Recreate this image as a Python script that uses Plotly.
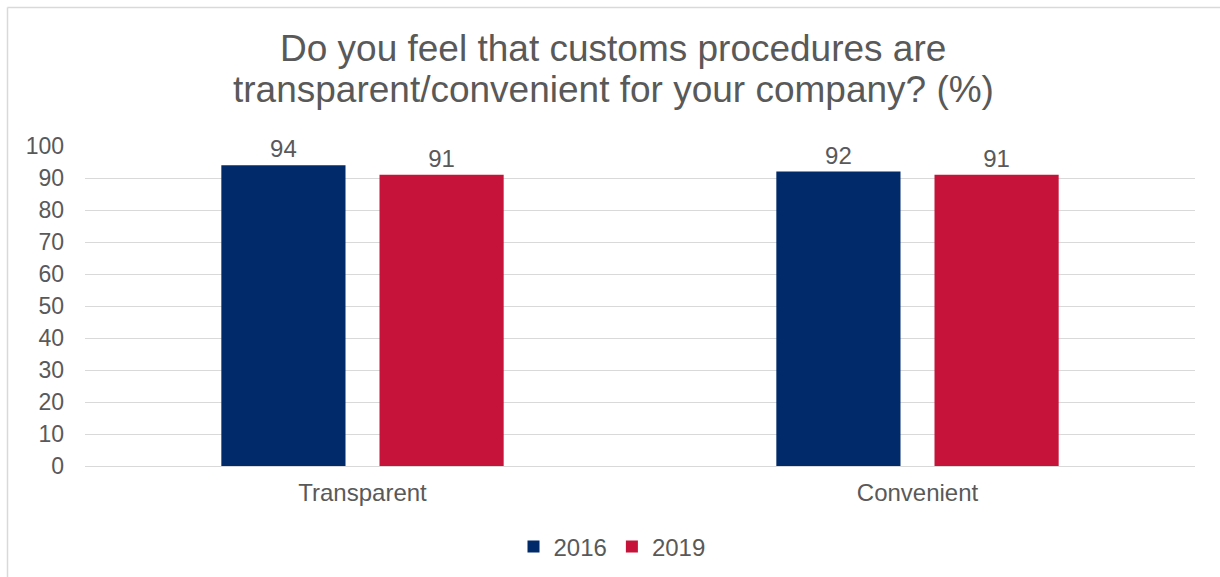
import plotly.graph_objects as go

categories = ["Transparent", "Convenient"]
values_2016 = [94, 92]
values_2019 = [91, 91]
series_names = ["2016", "2019"]
colors = ["#002A6A", "#C61339"]
y_ticks = [0, 10, 20, 30, 40, 50, 60, 70, 80, 90, 100]
title_lines = [
    "Do you feel that customs procedures are",
    "transparent/convenient for your company? (%)",
]

W, H = 1220, 577
L, R, T, B = 85, 25, 146, 111
plot_w = W - L - R
plot_h = H - T - B

text_color = "#595959"
font_family = "Liberation Sans, Arial, sans-serif"

fig = go.Figure()
for name, vals, col in zip(series_names, [values_2016, values_2019], colors):
    fig.add_trace(go.Bar(
        x=categories, y=vals, name=name,
        marker=dict(color=col, line=dict(width=0)),
        text=[str(v) for v in vals], textposition="outside",
        textfont=dict(size=24, color=text_color, family=font_family),
        cliponaxis=False,
    ))


def px_x(px):
    return (px - L) / plot_w


def px_y(py):
    return (H - B - py) / plot_h


# chart title, one annotation per line for tight line spacing
title_centers = [48, 90]
annotations = [
    dict(text=line, xref="paper", yref="paper",
         x=px_x(W / 2 + 3), y=px_y(cy), xanchor="center", yanchor="middle",
         showarrow=False, font=dict(size=37, color=text_color, family=font_family))
    for line, cy in zip(title_lines, title_centers)
]

fig.update_layout(
    width=W, height=H,
    margin=dict(l=L, r=R, t=T, b=B, autoexpand=False),
    paper_bgcolor="white", plot_bgcolor="white",
    font=dict(family=font_family, color=text_color, size=24),
    barmode="group", bargap=0.43, bargroupgap=0.215,
    annotations=annotations,
    xaxis=dict(
        showgrid=False, showline=False, ticks="",
        tickfont=dict(size=24, color=text_color),
        ticklabelstandoff=10, automargin=False,
    ),
    yaxis=dict(
        range=[0, 100], tickvals=y_ticks,
        showgrid=True, gridcolor="#D9D9D9", gridwidth=1,
        zeroline=True, zerolinecolor="#D9D9D9", zerolinewidth=1,
        showline=False, ticks="",
        tickfont=dict(size=23, color=text_color),
        ticklabelstandoff=20, automargin=False,
    ),
    legend=dict(
        orientation="h", x=px_x(612), xanchor="center",
        y=px_y(547), yanchor="middle",
        font=dict(size=24, color=text_color),
        itemwidth=30, traceorder="normal",
    ),
    shapes=[
        dict(type="line", xref="paper", yref="paper",
             x0=px_x(7.5), x1=px_x(1225), y0=px_y(7.5), y1=px_y(7.5),
             line=dict(color="#D9D9D9", width=1.5)),
        dict(type="line", xref="paper", yref="paper",
             x0=px_x(7.5), x1=px_x(7.5), y0=px_y(7.5), y1=px_y(585),
             line=dict(color="#D9D9D9", width=1.5)),
    ],
)

fig.write_html("out.html")
